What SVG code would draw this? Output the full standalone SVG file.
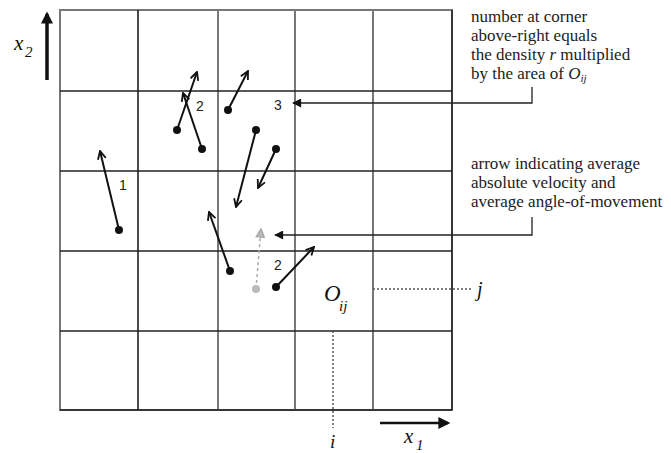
<svg xmlns="http://www.w3.org/2000/svg" width="671" height="453" viewBox="0 0 671 453">
<style>
.g1{stroke:#777;stroke-width:2;fill:none}
.g2{stroke:#222;stroke-width:1.5;fill:none}
.arr{stroke:#111;stroke-width:2;fill:none;marker-end:url(#open)}
.dot{fill:#111}
.lead{stroke:#222;stroke-width:1.3;fill:none;marker-end:url(#fill)}
.note{font-family:"Liberation Serif","Times New Roman",serif;font-size:17px;fill:#222}
.num{font-family:"Liberation Sans",sans-serif;font-size:14px;fill:#222}
.it{font-family:"Liberation Serif","Times New Roman",serif;font-style:italic;fill:#111}
</style>
<defs>
<marker id="open" viewBox="0 0 10 10" refX="9" refY="5" markerWidth="10" markerHeight="10" markerUnits="userSpaceOnUse" orient="auto"><path d="M1,1 L9,5 L1,9" fill="none" stroke="#111" stroke-width="1.8"/></marker>
<marker id="gopen" viewBox="0 0 10 10" refX="9" refY="5" markerWidth="10" markerHeight="10" markerUnits="userSpaceOnUse" orient="auto"><path d="M1,1 L9,5 L1,9 z" fill="#bbb" stroke="#aaa" stroke-width="1.5"/></marker>
<marker id="fill" viewBox="0 0 10 10" refX="9" refY="5" markerWidth="11" markerHeight="9" markerUnits="userSpaceOnUse" orient="auto"><path d="M0,0 L10,5 L0,10 z" fill="#111"/></marker>
<marker id="axis" viewBox="0 0 10 10" refX="8" refY="5" markerWidth="14" markerHeight="12" markerUnits="userSpaceOnUse" orient="auto"><path d="M0,0 L10,5 L0,10 z" fill="#111"/></marker>
</defs>
<g id="grid">
<rect x="60" y="10" width="392" height="400" class="g1"/>
<line x1="138" y1="10" x2="138" y2="410" stroke="#111" stroke-width="1.5"/>
<line x1="218" y1="10" x2="218" y2="410" class="g1"/>
<line x1="295" y1="10" x2="295" y2="410" class="g1"/>
<line x1="373" y1="10" x2="373" y2="410" class="g1"/>
<line x1="452" y1="10" x2="452" y2="410" class="g2"/>
<line x1="60" y1="91" x2="452" y2="91" class="g2"/>
<line x1="60" y1="171" x2="452" y2="171" class="g2"/>
<line x1="60" y1="251" x2="452" y2="251" class="g2"/>
<line x1="60" y1="331" x2="452" y2="331" class="g2"/>
<line x1="60" y1="410" x2="452" y2="410" class="g2"/>
</g>
<g id="axes">
<line x1="47" y1="80" x2="47" y2="14" stroke="#111" stroke-width="3.5" marker-end="url(#axis)"/>
<text x="14" y="50" class="it" font-size="21">x</text><text x="25" y="57" class="it" font-size="15" font-style="normal">2</text>
<line x1="380" y1="423" x2="448" y2="423" stroke="#111" stroke-width="2.5" marker-end="url(#axis)"/>
<text x="404" y="443" class="it" font-size="21">x</text><text x="416" y="450" class="it" font-size="15" font-style="normal">1</text>
</g>
<g id="particles">
<g id="p1"><line x1="119" y1="230" x2="100" y2="151" class="arr"/><circle cx="119" cy="230" r="4" class="dot"/></g>
<g id="p2"><line x1="177" y1="130" x2="197" y2="72" class="arr"/><circle cx="177" cy="130" r="4" class="dot"/></g>
<g id="p3"><line x1="202" y1="149" x2="183" y2="93" class="arr"/><circle cx="202" cy="149" r="4" class="dot"/></g>
<g id="p4"><line x1="228" y1="110" x2="248" y2="71" class="arr"/><circle cx="228" cy="110" r="4" class="dot"/></g>
<g id="p5"><line x1="256" y1="130" x2="236" y2="207" class="arr"/><circle cx="256" cy="130" r="4" class="dot"/></g>
<g id="p6"><line x1="276" y1="149" x2="258" y2="188" class="arr"/><circle cx="276" cy="149" r="4" class="dot"/></g>
<g id="p7"><line x1="230" y1="271" x2="209" y2="212" class="arr"/><circle cx="230" cy="271" r="4" class="dot"/></g>
<g id="p8"><line x1="276" y1="287" x2="314" y2="247" class="arr"/><circle cx="276" cy="287" r="4" class="dot"/></g>
<g id="avg"><line x1="256" y1="289" x2="261" y2="229" stroke="#aaa" stroke-width="1.5" stroke-dasharray="3,3" marker-end="url(#gopen)"/><circle cx="256" cy="289" r="4" fill="#bbb"/></g>
</g>
<g id="numbers">
<text x="119" y="190" class="num">1</text>
<text x="196" y="111" class="num">2</text>
<text x="274" y="110" class="num">3</text>
<text x="274" y="270" class="num">2</text>
</g>
<g id="cell">
<text x="324" y="301" class="it" font-size="23">O</text><text x="339" y="311" class="it" font-size="15">ij</text>
<line x1="373" y1="289" x2="472" y2="289" stroke="#555" stroke-width="1.5" stroke-dasharray="2,2"/>
<line x1="333" y1="331" x2="333" y2="428" stroke="#555" stroke-width="1.5" stroke-dasharray="2,2"/>
<text x="477" y="296" class="it" font-size="20">j</text>
<text x="330" y="448" class="it" font-size="19">i</text>
</g>
<g id="connectors">
<path d="M532,87 V103 H293" class="lead"/>
<path d="M532,217 V235 H275" class="lead"/>
</g>
<g id="notes">
<text class="note"><tspan x="471" y="22">number at corner</tspan><tspan x="471" y="41">above-right equals</tspan><tspan x="471" y="60">the density <tspan font-style="italic">r</tspan> multiplied</tspan><tspan x="471" y="79">by the area of <tspan font-style="italic">O</tspan><tspan font-style="italic" font-size="11" dy="3">ij</tspan></tspan></text>
<text class="note"><tspan x="471" y="169">arrow indicating average</tspan><tspan x="471" y="188">absolute velocity and</tspan><tspan x="471" y="207">average angle-of-movement</tspan></text>
</g>
</svg>
